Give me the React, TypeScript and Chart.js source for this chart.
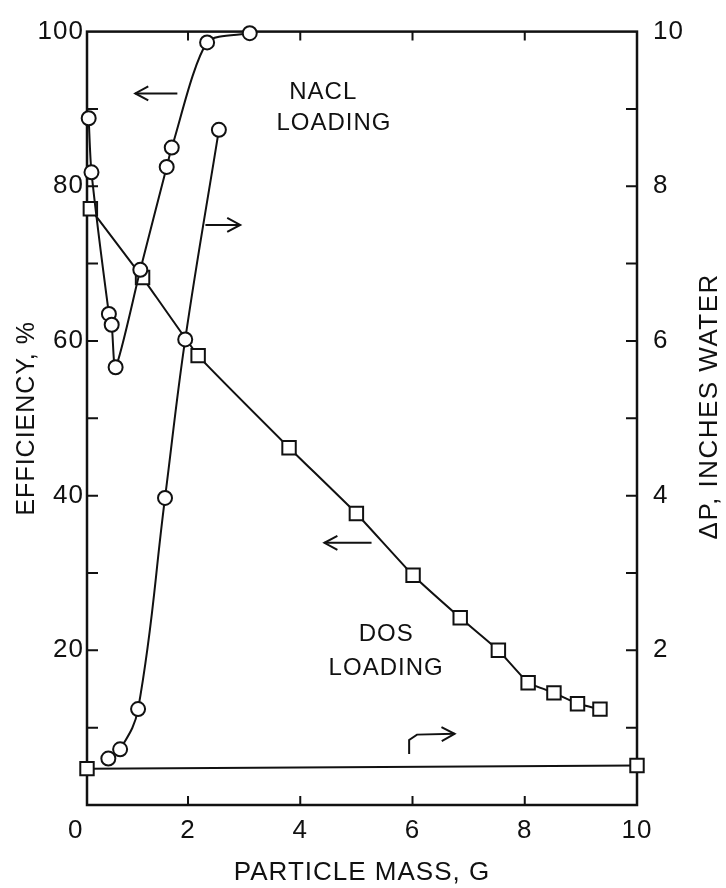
import React, { useEffect, useRef } from 'react';
import { Chart, registerables } from 'chart.js';

Chart.register(...registerables);

// ---- data ----
const naclEffX = [0.23, 0.28, 0.59, 0.64, 0.71, 1.15, 1.62, 1.71, 2.34, 3.1];
const naclEffY = [88.8, 81.8, 63.5, 62.1, 56.6, 69.2, 82.5, 85.0, 98.6, 99.8];

const naclDpX = [0.58, 0.79, 1.11, 1.59, 1.95, 2.55];
const naclDpY = [0.6, 0.72, 1.24, 3.97, 6.02, 8.73];

const dosEffX = [0.26, 1.19, 2.18, 3.8, 5.0, 6.01, 6.85, 7.53, 8.06, 8.52, 8.94, 9.34];
const dosEffY = [77.1, 68.2, 58.1, 46.2, 37.7, 29.7, 24.2, 20.0, 15.8, 14.5, 13.1, 12.4];

const dosDpX = [0.2, 10];
const dosDpY = [0.47, 0.51];

// ---- axes ----
const xTicks = [0, 2, 4, 6, 8, 10];
const xInnerTicks = [2, 4, 6, 8];
const leftTicks = [20, 40, 60, 80, 100];
const leftInnerTicks = [10, 20, 30, 40, 50, 60, 70, 80, 90];
const rightTicks = [2, 4, 6, 8, 10];
const rightInnerTicks = [1, 2, 3, 4, 5, 6, 7, 8, 9];

const xTitle = 'PARTICLE MASS, G';
const leftTitle = 'EFFICIENCY, %';
const rightTitle = 'ΔP, INCHES WATER';

// ---- annotations (data coords: x, left-axis y) ----
const labels = [
  { text: 'NACL', x: 4.41, y: 92.1 },
  { text: 'LOADING', x: 4.6, y: 88.1 },
  { text: 'DOS', x: 5.53, y: 22.1 },
  { text: 'LOADING', x: 5.53, y: 17.7 },
];
const arrows = [
  [[1.81, 92.0], [1.06, 92.0]],
  [[2.31, 75.0], [2.93, 75.0]],
  [[5.27, 33.9], [4.43, 33.9]],
  [[5.94, 6.6], [5.94, 8.4], [6.08, 9.1], [6.75, 9.2]],
];

const FONT = "'Liberation Sans', Arial, sans-serif";
const INK = '#111';

const toPts = (xs: number[], ys: number[]) => xs.map((x, i) => ({ x, y: ys[i] }));

function drawArrow(ctx: CanvasRenderingContext2D, pts: number[][]) {
  ctx.beginPath();
  ctx.moveTo(pts[0][0], pts[0][1]);
  for (let i = 1; i < pts.length; i++) ctx.lineTo(pts[i][0], pts[i][1]);
  ctx.stroke();
  const [x1, y1] = pts[pts.length - 2];
  const [x2, y2] = pts[pts.length - 1];
  const a = Math.atan2(y2 - y1, x2 - x1);
  const L = 13, W = 7;
  ctx.beginPath();
  ctx.moveTo(x2 - L * Math.cos(a) + W * Math.sin(a), y2 - L * Math.sin(a) - W * Math.cos(a));
  ctx.lineTo(x2, y2);
  ctx.lineTo(x2 - L * Math.cos(a) - W * Math.sin(a), y2 - L * Math.sin(a) + W * Math.cos(a));
  ctx.stroke();
}

const decorPlugin = {
  id: 'decor',
  beforeDraw(chart: any) {
    (chart.ctx as any).letterSpacing = '1px';
  },
  beforeDatasetsDraw(chart: any) {
    const { ctx, chartArea: a, scales } = chart;
    ctx.save();
    ctx.strokeStyle = INK;
    ctx.lineWidth = 2.5;
    ctx.strokeRect(a.left, a.top, a.right - a.left, a.bottom - a.top);
    ctx.lineWidth = 2;
    ctx.beginPath();
    for (const v of leftInnerTicks) {
      const y = scales.yL.getPixelForValue(v);
      ctx.moveTo(a.left, y);
      ctx.lineTo(a.left + 11, y);
    }
    for (const v of rightInnerTicks) {
      const y = scales.yR.getPixelForValue(v);
      ctx.moveTo(a.right, y);
      ctx.lineTo(a.right - 11, y);
    }
    for (const v of xInnerTicks) {
      const x = scales.x.getPixelForValue(v);
      ctx.moveTo(x, a.bottom);
      ctx.lineTo(x, a.bottom - 9);
      ctx.moveTo(x, a.top);
      ctx.lineTo(x, a.top + 9);
    }
    ctx.stroke();
    ctx.restore();
  },
  afterDraw(chart: any) {
    const { ctx, chartArea: a, scales } = chart;
    const px = (x: number) => scales.x.getPixelForValue(x);
    const py = (y: number) => scales.yL.getPixelForValue(y);
    ctx.save();
    (ctx as any).letterSpacing = '1px';
    ctx.fillStyle = INK;
    ctx.strokeStyle = INK;
    ctx.lineWidth = 2;
    ctx.font = `24px ${FONT}`;
    ctx.textAlign = 'center';
    ctx.textBaseline = 'middle';
    for (const l of labels) ctx.fillText(l.text, px(l.x), py(l.y));
    for (const ar of arrows) drawArrow(ctx, ar.map(([x, y]) => [px(x), py(y)]));
    // right axis title, reading bottom-to-top
    ctx.font = `26px ${FONT}`;
    (ctx as any).letterSpacing = '1.5px';
    ctx.translate(710, (a.top + a.bottom) / 2 - 12);
    ctx.rotate(-Math.PI / 2);
    ctx.fillText(rightTitle, 0, 0);
    ctx.restore();
  },
};

export default function App() {
  const ref = useRef<HTMLCanvasElement>(null);
  useEffect(() => {
    if (!ref.current) return;
    const common = {
      borderColor: INK,
      borderWidth: 2,
      pointBackgroundColor: '#fff',
      pointBorderColor: INK,
      pointBorderWidth: 2,
      clip: false as any,
      fill: false,
    };
    const chart = new Chart(ref.current, {
      type: 'line',
      data: {
        datasets: [
          { ...common, data: toPts(naclEffX, naclEffY), yAxisID: 'yL', pointStyle: 'circle', pointRadius: 7, tension: 0.25 },
          { ...common, data: toPts(naclDpX, naclDpY), yAxisID: 'yR', pointStyle: 'circle', pointRadius: 7, tension: 0.4 },
          { ...common, data: toPts(dosEffX, dosEffY), yAxisID: 'yL', pointStyle: 'rect', pointRadius: 9.5, tension: 0.1 },
          { ...common, data: toPts(dosDpX, dosDpY), yAxisID: 'yR', pointStyle: 'rect', pointRadius: 9.5, tension: 0 },
        ],
      },
      options: {
        responsive: false,
        animation: false,
        events: [],
        layout: { padding: { top: 28, left: 0, right: 0, bottom: 0 } },
        plugins: { legend: { display: false }, tooltip: { enabled: false } },
        scales: {
          x: {
            type: 'linear',
            position: 'bottom',
            min: 0.2,
            max: 10,
            afterBuildTicks: (s: any) => { s.ticks = xTicks.map((v) => ({ value: v })); },
            afterFit: (s: any) => { s.height = 83; },
            grid: { display: false, drawTicks: false },
            border: { display: false },
            ticks: { autoSkip: false, maxRotation: 0, padding: 10, color: INK, font: { family: FONT, size: 26 } },
            title: { display: true, text: xTitle, color: INK, font: { family: FONT, size: 26 }, padding: { top: 0, bottom: 0 } },
          },
          yL: {
            type: 'linear',
            position: 'left',
            min: 0,
            max: 100,
            afterBuildTicks: (s: any) => { s.ticks = leftTicks.map((v) => ({ value: v })); },
            afterFit: (s: any) => { s.width = 87; },
            grid: { display: false, drawTicks: false },
            border: { display: false },
            ticks: { autoSkip: false, padding: 3, color: INK, font: { family: FONT, size: 26 } },
            title: { display: true, text: leftTitle, color: INK, font: { family: FONT, size: 25 }, padding: { top: 12, bottom: 0 } },
          },
          yR: {
            type: 'linear',
            position: 'right',
            min: 0,
            max: 10,
            afterBuildTicks: (s: any) => { s.ticks = rightTicks.map((v) => ({ value: v })); },
            afterFit: (s: any) => { s.width = 89; },
            grid: { display: false, drawTicks: false },
            border: { display: false },
            ticks: { autoSkip: false, padding: 16, color: INK, font: { family: FONT, size: 26 } },
          },
        },
      },
      plugins: [decorPlugin],
    } as any);
    return () => chart.destroy();
  }, []);
  return (
    <div style={{ position: 'fixed', left: 0, top: 0, width: 726, height: 888, background: '#fff' }}>
      <canvas ref={ref} width={726} height={888} style={{ display: 'block' }} />
    </div>
  );
}
